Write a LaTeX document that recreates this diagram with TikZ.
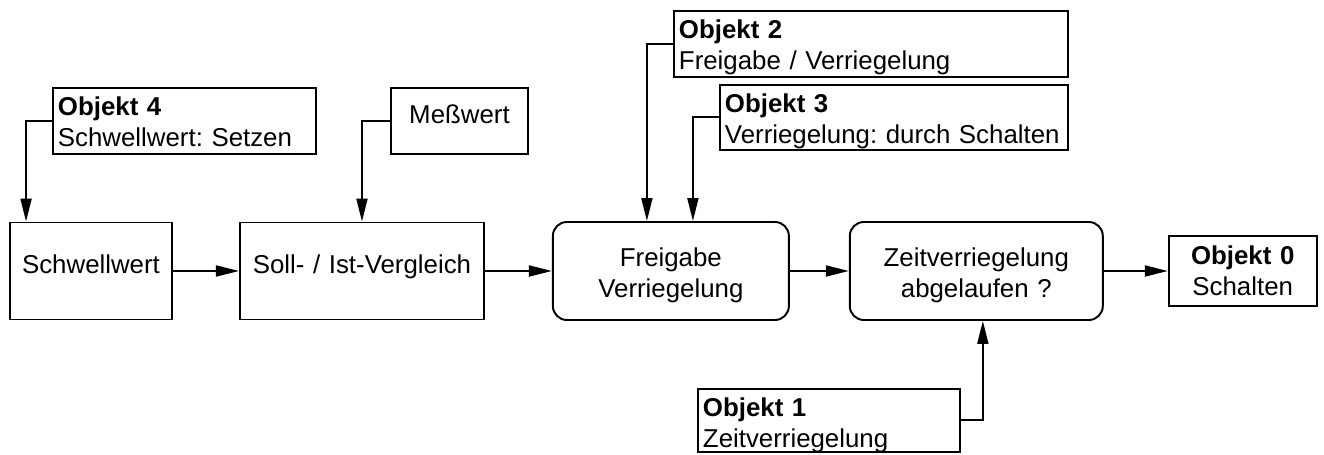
\documentclass[tikz,border=0pt]{standalone}
\usepackage{fontspec}
\setmainfont{Liberation Sans}
\usepackage{tikz}
\usetikzlibrary{positioning, arrows.meta}
\frenchspacing

\begin{document}
\begin{tikzpicture}[font=\fontsize{14.7}{17.1}\selectfont,
    block/.style={draw, line width=1.1pt, align=center, inner sep=0pt, text height=1.02cm, text depth=0.92cm},
    entscheid/.style={block, rounded corners=0.28cm, text height=0.9cm, text depth=1.06cm},
    objekt/.style={draw, line width=1.1pt, align=left, anchor=north west, inner xsep=0.1cm, inner ysep=0pt, text height=0.56cm, text depth=0.76cm},
    pfeil/.style={line width=1.1pt, -{Triangle[length=0.46cm, width=0.22cm]}}]
    \useasboundingbox (0,0) rectangle (26.48,9.10);

    % Hauptkette
    \node[block, text width=3.24cm] (schwellwert) at (1.82,3.68) {Schwellwert};
    \node[block, text width=4.88cm, right=1.32cm of schwellwert] (vergleich) {Soll- / Ist-Vergleich};
    \node[entscheid, text width=4.72cm, right=1.34cm of vergleich] (freigabe) {Freigabe\\Verriegelung};
    \node[entscheid, text width=5.06cm, right=1.18cm of freigabe] (zeit) {Zeitverriegelung\\abgelaufen ?};
    \node[block, text width=2.96cm, text height=0.58cm, text depth=0.82cm, right=1.28cm of zeit] (objekt0) {\textbf{Objekt 0}\\Schalten};

    % Eingaenge
    \node[objekt, text width=5.06cm] (objekt4) at (1.04,7.36) {\textbf{Objekt 4}\\Schwellwert: Setzen};
    \node[block, anchor=north west, text width=2.74cm, text height=0.72cm, text depth=0.60cm] (messwert) at (7.80,7.36) {Meßwert};
    \node[objekt, text width=7.68cm] (objekt2) at (13.46,8.90) {\textbf{Objekt 2}\\Freigabe / Verriegelung};
    \node[objekt, text width=6.76cm, text depth=0.74cm] (objekt3) at (14.38,7.42) {\textbf{Objekt 3}\\Verriegelung: durch Schalten};
    \node[objekt, text width=5.04cm, text depth=0.70cm] (objekt1) at (13.94,1.34) {\textbf{Objekt 1}\\Zeitverriegelung};

    \draw[pfeil] (schwellwert) -- (vergleich);
    \draw[pfeil] (vergleich) -- (freigabe);
    \draw[pfeil] (freigabe) -- (zeit);
    \draw[pfeil] (zeit) -- (objekt0);

    \draw[pfeil] (objekt4.west) -| ([xshift=0.34cm]schwellwert.north west);
    \draw[pfeil] (messwert.west) -| ([xshift=2.46cm]vergleich.north west);
    \draw[pfeil] (objekt2.west) -| ([xshift=1.9cm]freigabe.north west);
    \draw[pfeil] (objekt3.west) -| ([xshift=2.82cm]freigabe.north west);
    \draw[pfeil] (objekt1.east) -| ([xshift=2.68cm]zeit.south west);
\end{tikzpicture}
\end{document}
